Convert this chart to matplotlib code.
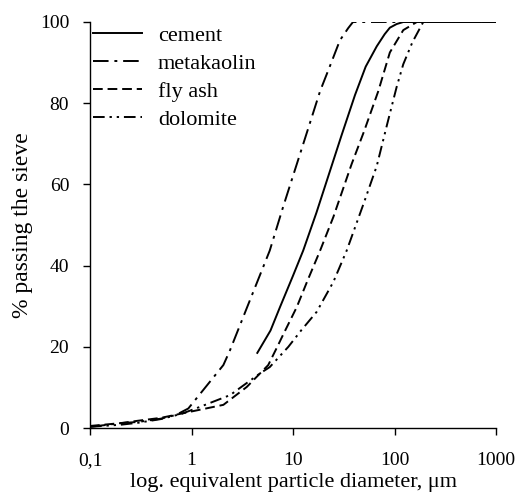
import matplotlib
matplotlib.use("Agg")
import matplotlib.pyplot as plt
from matplotlib.ticker import FixedLocator, FixedFormatter, NullLocator

plt.rcParams['font.family'] = ['Liberation Serif', 'DejaVu Serif']
plt.rcParams['mathtext.fontset'] = 'stix'

series_names = ["cement", "metakaolin", "fly ash", "dolomite"]

cement_x = [4.45, 6, 7.45, 10, 12.6, 17, 23.2, 30, 40.8, 52, 66.8, 80, 90, 105, 122, 200, 500, 1000]
cement_y = [18.5, 24, 29.8, 37.5, 43.7, 53, 63.4, 72, 82, 89, 94, 97, 98.6, 99.5, 100, 100, 100, 100]

metakaolin_x = [0.1, 0.15, 0.2, 0.3, 0.5, 0.7, 0.93, 2.06, 2.4, 3.5, 5.9, 8, 10.9, 14, 18.5, 23, 29, 35, 39, 1000]
metakaolin_y = [0.3, 0.8, 1.2, 1.5, 2.3, 3.2, 4.8, 15.5, 19.2, 29.5, 43.7, 54.5, 65, 73.5, 83, 89, 95.5, 98.5, 100, 100]

flyash_x = [0.1, 0.2, 0.3, 0.5, 0.97, 2.06, 3.5, 5.7, 7, 8, 10.9, 14, 18.5, 25, 37.8, 50, 69.3, 90, 122, 166, 1000]
flyash_y = [0.5, 1.2, 1.8, 2.5, 4.0, 5.7, 10.1, 15.5, 20, 23, 29.8, 36.5, 43.7, 52, 65, 73, 83, 92.5, 98, 100, 100]

dolomite_x = [0.1, 0.2, 0.3, 0.5, 0.8, 1.21, 2.4, 4.7, 5.9, 9, 12, 17.1, 25, 33.8, 50, 66.8, 85, 105, 122, 150, 192, 1000]
dolomite_y = [0.3, 0.8, 1.3, 2.2, 3.5, 5.2, 8.1, 13.4, 15, 20, 24, 28.6, 36, 43.7, 55.5, 64.5, 75, 84, 89.6, 95, 100, 100]

x_ticks = [0.1, 1, 10, 100, 1000]
x_tick_labels = ["0,1", "1", "10", "100", "1000"]
y_ticks = [0, 20, 40, 60, 80, 100]

fig = plt.figure(figsize=(5.2, 4.98), dpi=100)
ax = fig.add_axes([90/520, 1-428/498, (496-90)/520, (428-22)/498])

lw = 1.4
ax.plot(cement_x, cement_y, color='black', lw=lw, linestyle='-', label=series_names[0])
ax.plot(metakaolin_x, metakaolin_y, color='black', lw=lw, linestyle=(0, (8, 3, 1.5, 3)), label=series_names[1])
ax.plot(flyash_x, flyash_y, color='black', lw=lw, linestyle=(0, (5, 2.5)), label=series_names[2])
ax.plot(dolomite_x, dolomite_y, color='black', lw=lw, linestyle=(0, (6, 2.5, 1.2, 2.5, 1.2, 2.5)), label=series_names[3])

ax.set_xscale('log')
ax.set_xlim(0.1, 1000)
ax.set_ylim(0, 100)
ax.xaxis.set_major_locator(FixedLocator(x_ticks))
ax.xaxis.set_major_formatter(FixedFormatter(x_tick_labels))
ax.xaxis.set_minor_locator(NullLocator())
ax.set_yticks(y_ticks)

for s in ['top', 'right']:
    ax.spines[s].set_visible(False)
for s in ['left', 'bottom']:
    ax.spines[s].set_linewidth(1.0)

ax.tick_params(axis='both', direction='out', length=5, width=1.0, labelsize=14)
ax.tick_params(axis='x', pad=12)
ax.tick_params(axis='y', pad=10)

ax.set_xlabel("log. equivalent particle diameter, μm", fontsize=16, labelpad=3)
ax.set_ylabel("% passing the sieve", fontsize=17, labelpad=5)

leg = ax.legend(loc='upper left', bbox_to_anchor=(0.0, 1.0), frameon=False, fontsize=16,
                handlelength=2.2, handletextpad=0.7, labelspacing=0.33, borderpad=0.15, borderaxespad=0.0)

fig.savefig("out.png", dpi=100)
